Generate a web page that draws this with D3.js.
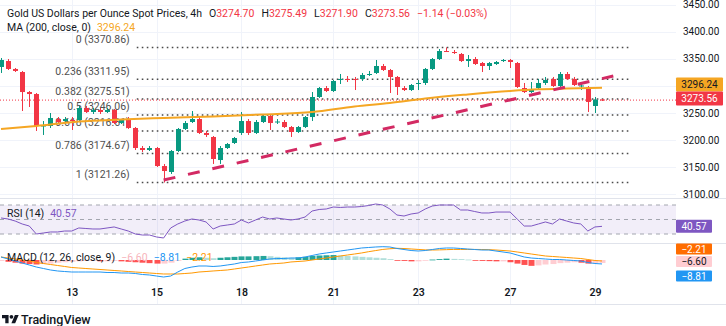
<!DOCTYPE html>
<html><head><meta charset="utf-8">
<script src="https://cdn.jsdelivr.net/npm/d3@7"></script>
<style>
html,body{margin:0;padding:0;background:#fff;}
svg{display:block;font-family:Roboto,"Liberation Sans",Arial,sans-serif;}
</style></head><body>
<svg id="c" width="726" height="326"></svg>
<script>
// ---------- DATA ----------
const candleOpen = [3334.8,3345.8,3331.1,3325.5,3288.5,3284.8,3224.8,3225.7,3238.6,3234.9,
 3236.8,3236.8,3259.0,3251.6,3255.3,3251.6,3255.3,3231.2,3238.6,3222.0,
 3185.0,3181.3,3185.0,3151.7,3140.7,3179.5,3220.2,3233.1,3238.6,3212.8,
 3205.4,3162.8,3185.0,3194.3,3212.8,3234.9,3212.8,3233.1,3244.2,3233.1,
 3233.1,3223.8,3214.6,3223.8,3242.3,3279.3,3295.9,3290.4,3310.7,3312.6,
 3312.6,3312.6,3320.9,3323.7,3336.6,3329.2,3316.3,3295.9,3292.2,3304.2,
 3305.2,3331.1,3349.5,3364.3,3362.5,3358.8,3345.8,3349.5,3342.1,3336.6,
 3340.3,3345.8,3347.7,3342.1,3295.9,3288.5,3295.9,3305.2,3312.6,3299.6,
 3321.8,3312.6,3299.6,3297.8,3262.7,3274.70];
const candleHigh = [3351.4,3349.5,3332.9,3327.4,3290.4,3286.7,3234.9,3249.7,3242.3,3242.3,
 3242.3,3262.7,3262.7,3259.0,3259.0,3259.0,3257.1,3238.6,3242.3,3223.8,
 3188.7,3188.7,3186.9,3155.5,3181.3,3222.0,3234.9,3253.4,3242.3,3216.5,
 3207.2,3188.7,3194.3,3205.4,3251.6,3238.6,3236.8,3247.9,3247.9,3238.6,
 3236.8,3225.7,3225.7,3244.2,3288.5,3297.8,3299.6,3310.7,3321.8,3318.1,
 3316.3,3323.7,3327.4,3347.7,3340.3,3331.1,3318.1,3299.6,3303.3,3310.7,
 3332.9,3351.4,3368.0,3370.86,3366.2,3360.6,3356.9,3353.2,3344.0,3344.0,
 3345.8,3349.5,3349.5,3344.0,3305.2,3307.0,3312.6,3316.3,3316.3,3325.5,
 3325.5,3316.3,3303.3,3299.6,3279.3,3275.49];
const candleLow = [3323.7,3329.2,3325.5,3253.4,3260.8,3216.5,3209.1,3222.0,3229.4,3231.2,
 3218.3,3234.9,3249.7,3247.9,3247.9,3249.7,3229.4,3229.4,3220.2,3181.3,
 3177.6,3179.5,3149.9,3121.26,3137.0,3177.6,3218.3,3231.2,3210.9,3205.4,
 3155.5,3155.5,3183.2,3192.4,3209.1,3209.1,3210.9,3231.2,3218.3,3229.4,
 3222.0,3205.4,3212.8,3222.0,3234.9,3277.5,3288.5,3288.5,3303.3,3307.0,
 3292.2,3308.9,3318.1,3321.8,3327.4,3286.7,3283.0,3290.4,3290.4,3292.2,
 3301.5,3329.2,3347.7,3362.5,3358.8,3344.0,3334.8,3338.5,3325.5,3329.2,
 3338.5,3344.0,3332.9,3295.9,3286.7,3286.7,3294.1,3301.5,3297.8,3297.8,
 3310.7,3299.6,3292.2,3251.6,3249.7,3271.90];
const candleClose = [3347.7,3331.1,3327.4,3288.5,3284.8,3225.7,3226.6,3240.5,3233.1,3238.6,
 3234.9,3259.0,3251.6,3255.3,3251.6,3255.3,3231.2,3236.8,3222.0,3185.0,
 3181.3,3185.0,3151.7,3142.5,3179.5,3220.2,3231.2,3238.6,3212.8,3209.1,
 3164.7,3185.0,3192.4,3203.5,3234.9,3212.8,3233.1,3244.2,3231.2,3234.0,
 3223.8,3214.6,3223.8,3242.3,3279.3,3295.9,3290.4,3308.9,3312.6,3311.7,
 3310.7,3320.0,3321.8,3336.6,3329.2,3316.3,3297.8,3292.2,3301.5,3305.2,
 3331.1,3349.5,3364.3,3363.4,3360.6,3345.8,3349.5,3340.3,3336.6,3342.1,
 3344.0,3347.7,3344.0,3297.8,3288.5,3294.1,3305.2,3310.7,3299.6,3321.8,
 3312.6,3301.5,3300.6,3270.1,3274.7,3273.56];

// 200 MA read at key bars (bar index, value)
const maIdx = [0,5,11,17,23,30,37,44,50,55,60,66,72,76,80,85];
const maVal = [3220.0,3225.7,3234.0,3237.7,3240.5,3243.3,3247.0,3251.6,3261.8,3268.2,3276.5,3284.0,3290.4,3293.5,3295.0,3296.24];

const rsiVal = [52.1,50.7,47.9,43.8,41.0,30.0,31.4,32.8,32.8,34.1,
 34.1,38.3,37.6,36.9,36.9,38.3,39.7,36.9,34.1,30.0,
 28.6,28.6,25.9,24.5,38.3,43.8,47.9,50.7,49.3,46.6,
 36.9,41.0,42.4,43.8,49.3,45.2,49.3,53.4,50.7,52.1,
 50.7,49.3,50.7,53.4,61.7,63.8,64.5,67.2,66.6,67.2,
 67.2,67.9,69.3,71.4,70.0,64.5,56.2,54.8,57.6,59.0,
 64.5,68.6,70.0,70.0,70.0,63.1,63.1,61.0,59.0,59.0,
 60.3,60.3,60.3,50.7,41.0,41.0,43.8,46.6,43.8,50.7,
 47.9,45.2,43.8,34.1,39.7,40.57];

const macdVal = [6.7,2.2,-2.2,-6.7,-11.1,-15.6,-18.9,-22.2,-24.4,-25.6,
 -26.7,-26.7,-26.7,-26.7,-26.7,-27.8,-27.8,-28.9,-28.9,-30.0,
 -32.2,-33.3,-35.6,-37.8,-35.6,-26.7,-18.9,-15.6,-13.3,-13.3,
 -14.4,-13.3,-11.1,-8.9,-5.6,-4.4,-2.2,0,2.2,3.3,
 3.3,4.4,4.4,6.7,10.0,13.3,15.6,17.8,20.0,22.2,
 24.4,26.7,27.8,28.9,29.6,28.9,25.6,23.3,21.1,20.0,
 21.1,23.3,25.6,26.7,26.7,25.6,24.4,23.3,22.2,22.2,
 20.0,17.8,15.6,11.1,6.7,4.4,3.3,2.2,1.1,1.1,
 0,-1.1,-2.2,-5.6,-7.8,-8.81];
const signalVal = [6.7,4.4,2.2,0,-2.2,-5.6,-7.8,-10,-12.2,-14.4,
 -16.7,-17.8,-18.9,-20,-21.1,-22.2,-23.3,-24.4,-25.6,-26.7,
 -27.8,-28.9,-30,-31.1,-31.1,-31.1,-30,-28.9,-26.7,-25.6,
 -24.4,-23.3,-22.2,-20,-17.8,-15.6,-13.3,-11.1,-8.9,-7.8,
 -6.7,-4.4,-3.3,-2.2,0,2.2,4.4,6.7,8.9,11.1,
 13.3,15.6,18.5,21,23.5,25,26,25.5,24.5,23.5,
 22.5,22.2,22.5,23,23.5,23.5,23.5,23.5,23.3,23,
 22.2,21.1,20,17.8,15.6,13.3,11.1,8.9,7.8,6.7,
 5.6,4.4,3.3,1.1,-1.1,-2.21];
const histVal = [-2,-4,-6,-8,-9,-10,-9,-8,-6,-5,
 -4,-3,-2,-2,-3,-3,-2,-3,-4,-5,
 -6,-7,-8,-8,-6,-2,3,5,6,5,
 4,5,6,7,8,8,8.5,9,8.5,7,
 6,5,6,7,9,10,10.5,11,10,9,
 8,7,6,5,4,2,-1,-2,-3,-3,
 -1,1,2,3,2.5,2,1,-1,-2,-2.5,
 -3,-3,-5,-8,-11,-13,-12,-10,-9,-7,
 -6,-5,-6,-8,-7,-6.6];

const priceTicks = [3100,3150,3200,3250,3300,3350,3400,3450];
const dayLabels = ["13","15","18","21","23","27","29"];
const dayIdx = [10,22,34,47,59,72,84];

const fibRatios = ["0","0.236","0.382","0.5","0.618","0.786","1"];
const fibPrices = [3370.86,3311.95,3275.51,3246.06,3216.61,3174.67,3121.26];
const fibSpan = [19.2, 88.8];          // bar indices where the fib levels start / end
const trendIdx = [23, 86.6];           // trend line anchors (bar index)
const trendPrice = [3125.8, 3318.1];   // trend line anchors (price)

const lastPrice = 3273.56, maLast = 3296.24, rsiLast = 40.57;
const macdLast = -8.81, signalLast = -2.21, histLast = -6.60;

// ---------- STYLE ----------
const UP = "#089981", DN = "#f23645", MAC = "#f5a623", TXT = "#131722";
const svg = d3.select("#c");

// ---------- SCALES ----------
const x = d3.scaleLinear().domain([0, 85]).range([1, 602]);
const y = d3.scaleLinear().domain([3100, 3400]).range([194, 31.7]);
const yR = d3.scaleLinear().domain([30, 70]).range([234, 205]);
const yM = d3.scaleLinear().domain([-20, 20]).range([269, 251]);
const plotRight = 676;

// ---------- GRID ----------
const grid = svg.append("g");
grid.selectAll("line.h").data(priceTicks).join("line")
  .attr("x1", 0).attr("x2", plotRight).attr("y1", d => Math.round(y(d)) + .5).attr("y2", d => Math.round(y(d)) + .5)
  .attr("stroke", "#f0f3fa");
grid.selectAll("line.v").data(dayIdx).join("line")
  .attr("x1", d => Math.round(x(d)) + .5).attr("x2", d => Math.round(x(d)) + .5).attr("y1", 0).attr("y2", 304)
  .attr("stroke", "#f0f3fa");

// pane separators
[198.5, 243.5, 304.5].forEach(v => svg.append("line").attr("x1", 0).attr("x2", 726).attr("y1", v).attr("y2", v).attr("stroke", "#e0e3eb"));

// ---------- MAIN PANE ----------
svg.append("clipPath").attr("id", "cm").append("rect").attr("x", 0).attr("y", 0).attr("width", plotRight).attr("height", 198);
const main = svg.append("g").attr("clip-path", "url(#cm)");

// fib levels
const fib = main.append("g");
fib.selectAll("line").data(fibPrices).join("line")
  .attr("x1", x(fibSpan[0])).attr("x2", x(fibSpan[1]))
  .attr("y1", d => y(d)).attr("y2", d => y(d))
  .attr("stroke", "#4a4a4a").attr("stroke-width", 1.5).attr("stroke-dasharray", "1.6,3.4");
fib.selectAll("text").data(fibPrices).join("text")
  .attr("x", x(fibSpan[0]) - 7).attr("y", d => y(d) - 4.5)
  .attr("text-anchor", "end").attr("font-size", 10.5).attr("fill", "#4f4f4f")
  .text((d, i) => `${fibRatios[i]} (${d3.format(".2f")(d)})`);

// last price dotted line
main.append("line").attr("x1", 0).attr("x2", plotRight)
  .attr("y1", y(lastPrice)).attr("y2", y(lastPrice))
  .attr("stroke", DN).attr("stroke-width", 1).attr("stroke-dasharray", "1,2");

// candles
const idx = d3.range(candleOpen.length);
const gc = main.append("g");
gc.selectAll("line").data(idx).join("line")
  .attr("x1", i => Math.round(x(i)) + .5).attr("x2", i => Math.round(x(i)) + .5)
  .attr("y1", i => y(candleHigh[i])).attr("y2", i => y(candleLow[i]))
  .attr("stroke", i => candleClose[i] >= candleOpen[i] ? UP : DN);
gc.selectAll("rect").data(idx).join("rect")
  .attr("x", i => Math.round(x(i)) - 2).attr("width", 5)
  .attr("y", i => y(Math.max(candleOpen[i], candleClose[i])))
  .attr("height", i => Math.max(1, Math.abs(y(candleOpen[i]) - y(candleClose[i]))))
  .attr("fill", i => candleClose[i] >= candleOpen[i] ? UP : DN);

// moving average
main.append("path").datum(d3.zip(maIdx, maVal))
  .attr("d", d3.line().x(d => x(d[0])).y(d => y(d[1])).curve(d3.curveMonotoneX))
  .attr("fill", "none").attr("stroke", MAC).attr("stroke-width", 2);

// trend line
main.append("path").datum(d3.zip(trendIdx, trendPrice))
  .attr("d", d3.line().x(d => x(d[0])).y(d => y(d[1])))
  .attr("fill", "none").attr("stroke", "#d32a63").attr("stroke-width", 3).attr("stroke-dasharray", "12,13");

// tag positions (price scale labels hidden where a tag covers them)
const redC = y(lastPrice) - 1.5;
const maC = Math.min(y(maLast), redC - 14);
const tagBands = [[maC - 7, maC + 7], [redC - 7, redC + 7]];
const visibleTicks = priceTicks.filter(t => !tagBands.some(([a, b]) => y(t) + 5 > a && y(t) - 5 < b));

// price axis
const pax = svg.append("g").attr("transform", `translate(680,0)`)
  .call(d3.axisRight(y).tickValues(visibleTicks).tickFormat(d3.format(".2f")).tickSize(0).tickPadding(3));
pax.select(".domain").remove();
pax.selectAll("text").attr("font-size", 10).attr("fill", TXT).attr("font-family", "Roboto, 'Liberation Sans', Arial, sans-serif");

// tags
function tag(cy, w, h, bg, fg, label) {
  svg.append("rect").attr("x", 676).attr("y", cy - h / 2).attr("width", w).attr("height", h).attr("fill", bg).attr("rx", 1);
  svg.append("text").attr("x", 676 + w / 2).attr("y", cy).attr("dy", "0.35em").attr("text-anchor", "middle")
    .attr("font-size", 10).attr("fill", fg).text(label);
}
tag(maC, 47, 14, MAC, TXT, d3.format(".2f")(maLast));
tag(redC, 47, 14, DN, "#fff", d3.format(".2f")(lastPrice));

// header
const h1 = svg.append("text").attr("x", 7).attr("y", 17).attr("font-size", 10.5).attr("fill", TXT);
h1.append("tspan").text("Gold US Dollars per Ounce Spot Prices, 4h");
const ohlc = [["O", candleOpen[85]], ["H", candleHigh[85]], ["L", candleLow[85]], ["C", candleClose[85]]];
ohlc.forEach(([k, v]) => {
  h1.append("tspan").attr("dx", 7).text(k);
  h1.append("tspan").attr("fill", DN).text(d3.format(".2f")(v));
});
h1.append("tspan").attr("dx", 7).attr("fill", DN).text("\u22121.14 (\u22120.03%)");
const h2 = svg.append("text").attr("x", 7).attr("y", 31).attr("font-size", 10.5).attr("fill", TXT);
h2.append("tspan").text("MA (200, close, 0)");
h2.append("tspan").attr("dx", 6).attr("fill", MAC).text(d3.format(".2f")(maLast));

// ---------- RSI PANE ----------
const rsiG = svg.append("g");
rsiG.append("rect").attr("x", 0).attr("width", plotRight).attr("y", yR(70)).attr("height", yR(30) - yR(70))
  .attr("fill", "rgba(126,87,194,0.1)");
rsiG.selectAll("line").data([70, 50, 30]).join("line")
  .attr("x1", 0).attr("x2", plotRight).attr("y1", d => yR(d)).attr("y2", d => yR(d))
  .attr("stroke", "#a3a6af").attr("stroke-dasharray", "4,4");
rsiG.append("path").datum(idx)
  .attr("d", d3.line().x(i => x(i)).y(i => yR(rsiVal[i])))
  .attr("fill", "none").attr("stroke", "#7e57c2").attr("stroke-width", 1);
const rl = svg.append("text").attr("x", 7).attr("y", 216.5).attr("font-size", 10.5).attr("fill", TXT);
rl.append("tspan").text("RSI (14)");
rl.append("tspan").attr("dx", 6).attr("fill", "#7e57c2").text(d3.format(".2f")(rsiLast));
tag(yR(rsiLast), 36, 13, "#7e57c2", "#fff", d3.format(".2f")(rsiLast));

// ---------- MACD PANE ----------
const mg = svg.append("g");
mg.selectAll("rect").data(idx).join("rect")
  .attr("x", i => Math.round(x(i)) - 2.5).attr("width", 6)
  .attr("y", i => Math.min(yM(0), yM(histVal[i])))
  .attr("height", i => Math.max(0.8, Math.abs(yM(histVal[i]) - yM(0))))
  .attr("fill", i => {
    const h = histVal[i], p = i > 0 ? histVal[i - 1] : h;
    if (h >= 0) return h >= p ? "#26a69a" : "#b2dfdb";
    return h < p ? "#ff5252" : "#ffcdd2";
  });
mg.append("path").datum(idx).attr("d", d3.line().x(i => x(i)).y(i => yM(signalVal[i])))
  .attr("fill", "none").attr("stroke", "#ff9800").attr("stroke-width", 1);
mg.append("path").datum(idx).attr("d", d3.line().x(i => x(i)).y(i => yM(macdVal[i])))
  .attr("fill", "none").attr("stroke", "#2196f3").attr("stroke-width", 1);
const neg = v => d3.format(".2f")(v).replace("-", "\u2212");
const ml = svg.append("text").attr("x", 7).attr("y", 260.5).attr("font-size", 10.5).attr("fill", TXT);
ml.append("tspan").text("MACD (12, 26, close, 9)");
ml.append("tspan").attr("dx", 6).attr("fill", "#f7b3bb").text(neg(histLast));
ml.append("tspan").attr("dx", 6).attr("fill", "#2196f3").text(neg(macdLast));
ml.append("tspan").attr("dx", 6).attr("fill", "#ff9800").text(neg(signalLast));
tag(249, 36, 11, "#ff6d00", "#fff", neg(signalLast));
tag(261.5, 36, 11, "#ffcdd2", TXT, neg(histLast));
tag(276, 36, 11, "#2196f3", "#fff", neg(macdLast));

// ---------- TIME AXIS ----------
const tax = svg.append("g").attr("transform", "translate(0,286)")
  .call(d3.axisBottom(x).tickValues(dayIdx).tickFormat((d, i) => dayLabels[i]).tickSize(0).tickPadding(3));
tax.select(".domain").remove();
tax.selectAll("text").attr("font-size", 10.5).attr("font-weight", 600).attr("fill", TXT)
  .attr("font-family", "Roboto, 'Liberation Sans', Arial, sans-serif");

// ---------- LOGO ----------
const logo = svg.append("g").attr("transform", "translate(2,313) scale(0.47)").attr("fill", TXT);
logo.append("path").attr("d", "M14 22H7V11H0V4h14v18zM28 22h-8l7.5-18h8L28 22z");
logo.append("circle").attr("cx", 20).attr("cy", 8).attr("r", 4);
svg.append("text").attr("x", 21).attr("y", 323.5).attr("font-size", 12.5).attr("font-weight", 500).attr("fill", TXT).text("TradingView");
</script>
</body></html>
